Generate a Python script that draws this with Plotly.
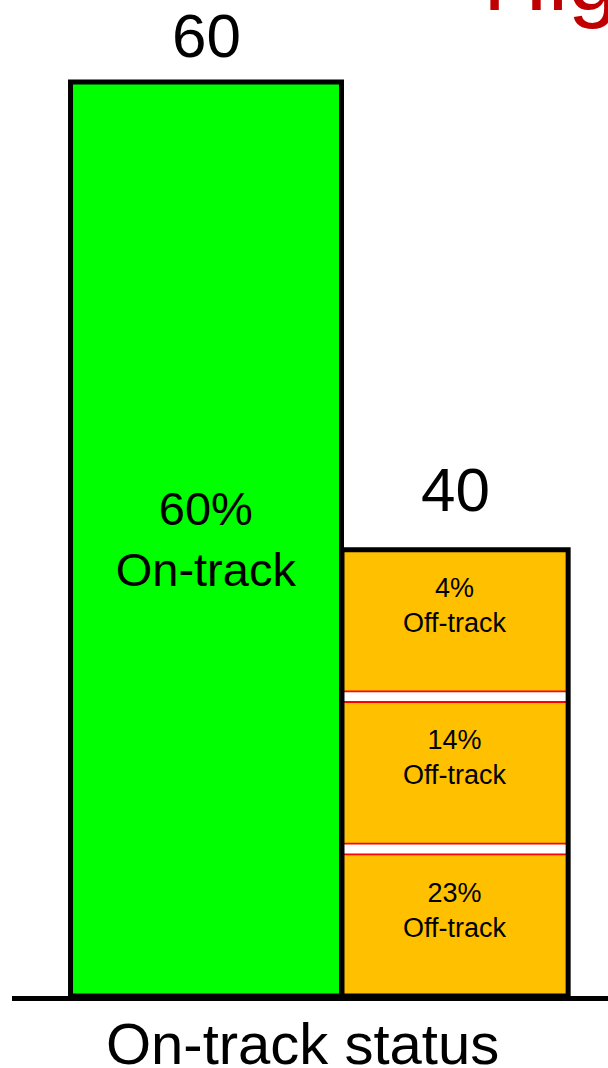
import plotly.graph_objects as go

# Data
statuses = ["On-track", "Off-track"]
total_labels = ["60", "40"]
on_track_value = 60
on_track_label = "60%<br>On-track"

# off-track bar is drawn as three boxes with white gaps between them
off_track_bases = [0, 10, 20]
off_track_heights = [9.3, 9.3, 9.3]
off_track_labels = ["23%<br>Off-track", "14%<br>Off-track", "4%<br>Off-track"]
gap_bases = [9.3, 19.3]
gap_heights = [0.7, 0.7]

axis_title = "On-track status"
heading = "High"

FONT = "Liberation Sans, Arial, sans-serif"
GREEN = "#00FF00"
ORANGE = "#FFC000"

bar_widths = [1.088, 0.908]
off_track_total = off_track_bases[-1] + off_track_heights[-1]

fig = go.Figure()

# On-track bar
fig.add_trace(go.Bar(
    x=[statuses[0]], y=[on_track_value], base=0, width=[bar_widths[0]],
    marker=dict(color=GREEN, line=dict(color="black", width=5)),
    text=[on_track_label], textposition="inside", insidetextanchor="middle",
    textangle=0, textfont=dict(size=47, color="black", family=FONT),
    hoverinfo="skip",
))

# Off-track boxes
fig.add_trace(go.Bar(
    x=[statuses[1]] * len(off_track_heights), y=off_track_heights, base=off_track_bases,
    width=[bar_widths[1]] * len(off_track_heights),
    marker=dict(color=ORANGE, line=dict(width=0)),
    hoverinfo="skip",
))

# white separators with red edges
fig.add_trace(go.Bar(
    x=[statuses[1]] * len(gap_heights), y=gap_heights, base=gap_bases,
    width=[bar_widths[1]] * len(gap_heights),
    marker=dict(color="white", line=dict(color="#FF0000", width=1.8)),
    hoverinfo="skip",
))

# black outline round the whole off-track stack
fig.add_trace(go.Bar(
    x=[statuses[1]], y=[off_track_total], base=0, width=[bar_widths[1]],
    marker=dict(color="rgba(0,0,0,0)", line=dict(color="black", width=5)),
    hoverinfo="skip",
))

annotations = []
# totals above the bars
total_shift = [46, 60]
for cat, top, lab, sh in zip(statuses, [on_track_value, off_track_total], total_labels, total_shift):
    annotations.append(dict(
        x=cat, y=top, text=lab, showarrow=False, yanchor="middle", yshift=sh,
        font=dict(size=62, color="black", family=FONT),
    ))

# labels inside off-track boxes
for b, h, lab in zip(off_track_bases, off_track_heights, off_track_labels):
    annotations.append(dict(
        x=statuses[1], y=b + h / 2, text=lab, showarrow=False, yanchor="middle", yshift=15,
        font=dict(size=27, color="black", family=FONT),
    ))

annotations.append(dict(
    xref="paper", yref="paper", x=0.4866, y=0, text=axis_title, showarrow=False,
    xanchor="center", yanchor="middle", yshift=-47,
    font=dict(size=58, color="black", family=FONT),
))
annotations.append(dict(
    xref="paper", yref="paper", x=0.787, y=1, text=heading, showarrow=False,
    xanchor="left", yanchor="middle", yshift=21,
    font=dict(size=90, color="#C00000", family=FONT),
))

fig.update_layout(
    width=608, height=1068,
    margin=dict(l=12, r=0, t=0, b=72),
    paper_bgcolor="white", plot_bgcolor="white",
    barmode="overlay", showlegend=False,
    font=dict(family=FONT, color="black"),
    xaxis=dict(
        type="category", categoryorder="array", categoryarray=statuses,
        range=[-0.779, 1.614], showline=True, linecolor="black", linewidth=5,
        showticklabels=False, ticks="", showgrid=False, zeroline=False, fixedrange=True,
    ),
    yaxis=dict(
        range=[0, 65.38], visible=False, showgrid=False, zeroline=False, fixedrange=True,
    ),
    annotations=annotations,
)

# drop the browser's default page margin so the figure sits at the corner
fig.write_html(
    "out.html",
    config={"displayModeBar": False},
    post_script="document.body.style.margin='0';",
)
